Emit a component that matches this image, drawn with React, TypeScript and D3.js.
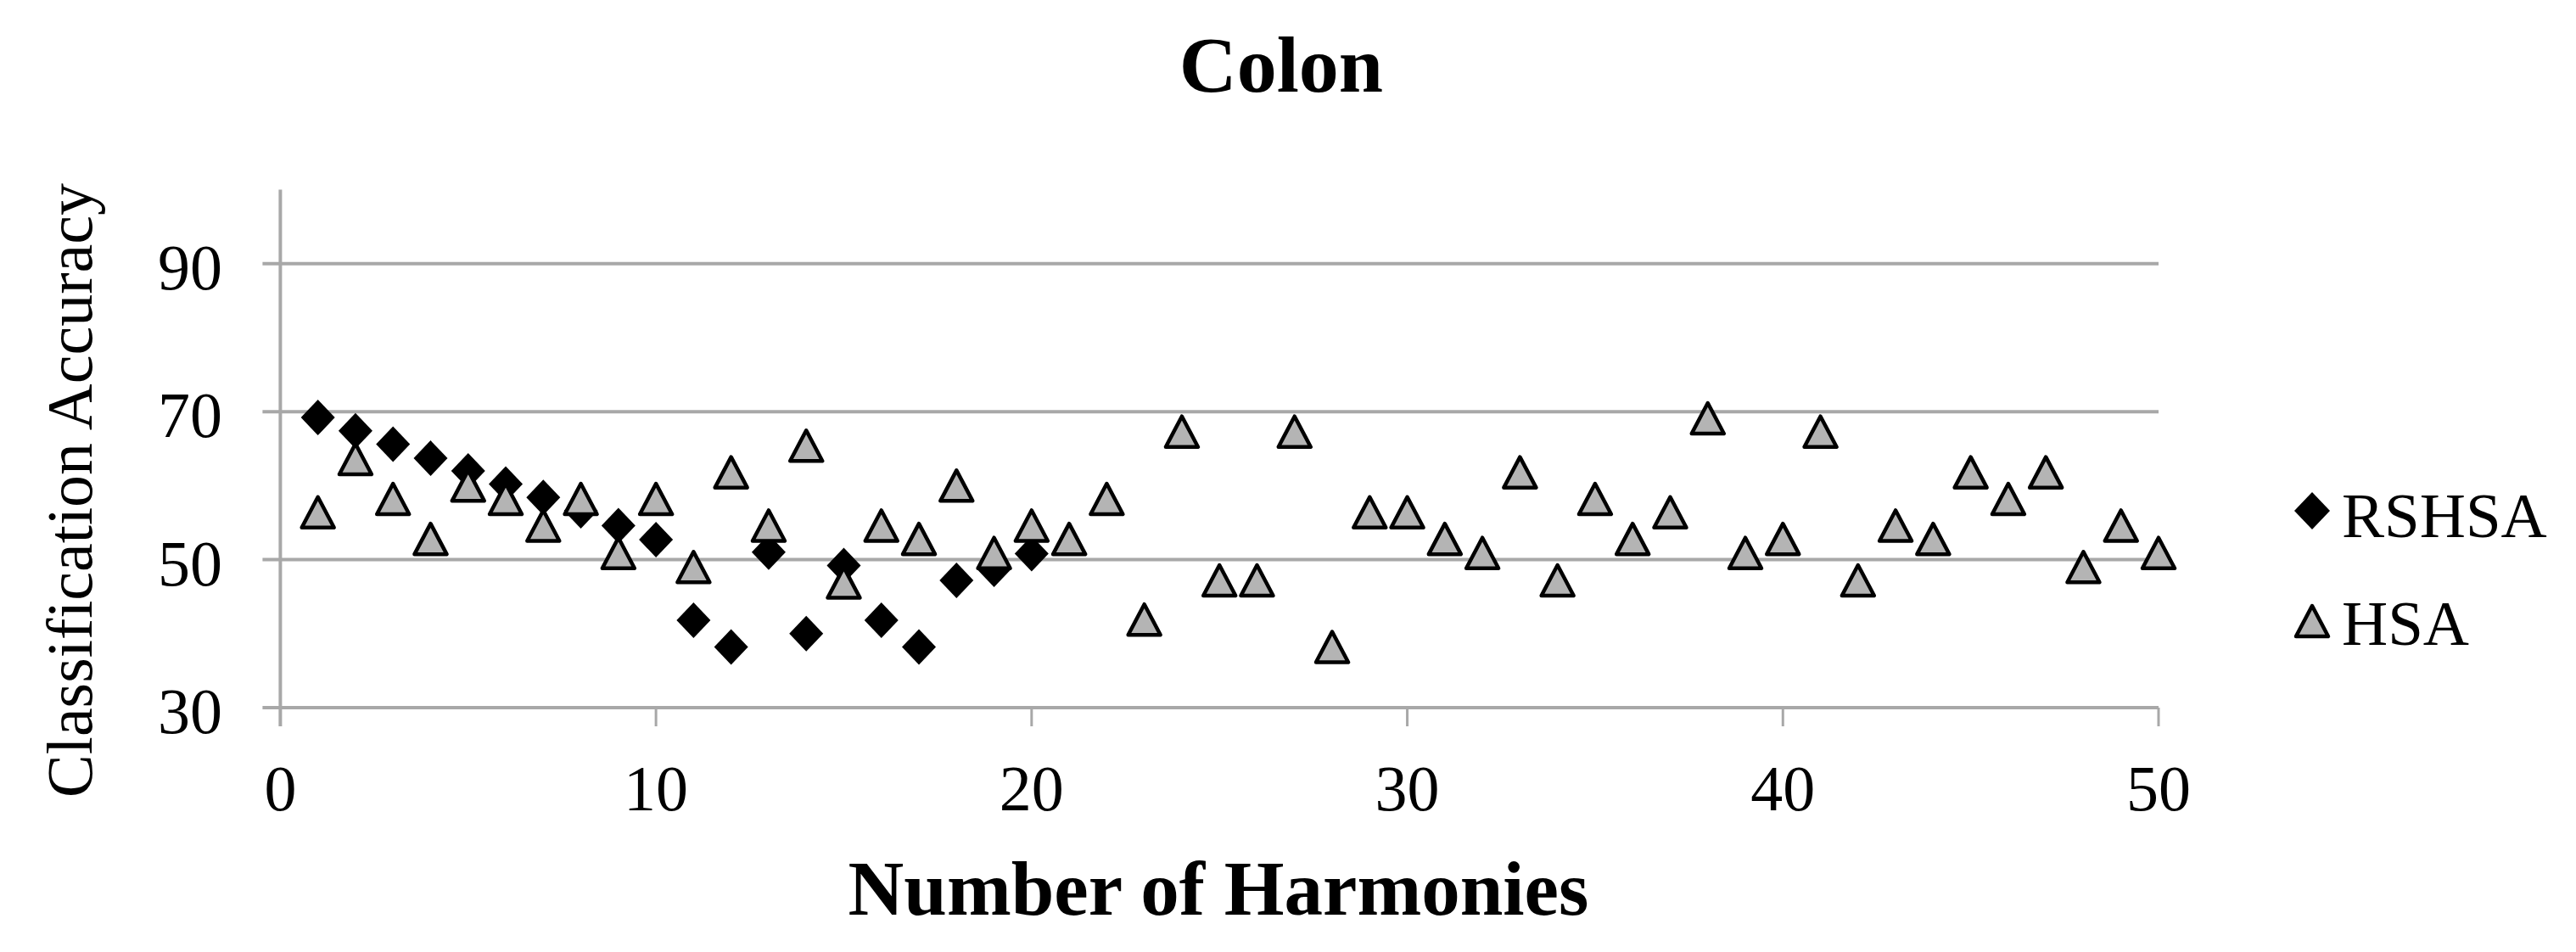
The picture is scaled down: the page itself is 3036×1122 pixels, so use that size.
import React from "react";
import * as d3 from "d3";

const harmonicsRSHSA = d3.range(1, 21);
const valuesRSHSA = [69.2, 67.4, 65.6, 63.7, 62.0, 60.2, 58.4, 56.6, 54.6, 52.7, 41.8, 38.2, 51.0, 40.0, 49.2, 41.8, 38.2, 47.2, 48.7, 50.8];
const harmonicsHSA = d3.range(1, 51);
const valuesHSA = [
  56.4, 63.6, 58.2, 52.8, 60.0, 58.2, 54.6, 58.2, 50.9, 58.2,
  49.0, 61.8, 54.6, 65.4, 46.9, 54.6, 52.8, 60.0, 50.9, 54.6,
  52.8, 58.2, 41.9, 67.3, 47.2, 47.2, 67.3, 38.2, 56.4, 56.4,
  52.8, 50.9, 61.8, 47.2, 58.2, 52.8, 56.4, 69.1, 50.9, 52.8,
  67.3, 47.2, 54.6, 52.8, 61.8, 58.2, 61.8, 49.0, 54.6, 50.9,
];
const xTicks = [0, 10, 20, 30, 40, 50];
const yTicks = [30, 50, 70, 90];
const seriesNames = ["RSHSA", "HSA"];

const W = 3036;
const H = 1122;
const FONT = "'Liberation Serif', 'Times New Roman', serif";
const GRID = "#a8a8a8";

const x = d3.scaleLinear().domain([0, 50]).range([330.4, 2544]);
const y = d3.scaleLinear().domain([30, 100]).range([834, 223.5]);

const diamondPath = "M0,-21L20,0L0,21L-20,0Z";
const trianglePath = "M0,-18L19,18L-19,18Z";

export default function App() {
  const rsh = harmonicsRSHSA.map((h, i) => ({ h, v: valuesRSHSA[i] }));
  const hsa = harmonicsHSA.map((h, i) => ({ h, v: valuesHSA[i] }));
  const x0 = x(0);
  const x50 = x(50);
  return (
    <svg
      width={W}
      height={H}
      style={{ position: "absolute", left: 0, top: 0, display: "block", background: "#fff" }}
      fontFamily={FONT}
    >
      <rect width={W} height={H} fill="#fff" />
      {/* title */}
      <text x={1510} y={108} textAnchor="middle" fontSize={94} fontWeight="bold" fill="#000">
        Colon
      </text>
      {/* gridlines + y ticks */}
      {yTicks.map((t) => (
        <g key={t}>
          <line x1={x0 - 21} x2={x50} y1={y(t)} y2={y(t)} stroke={GRID} strokeWidth={4} />
          <text x={262} y={y(t) + 30} textAnchor="end" fontSize={76} fill="#000">
            {t}
          </text>
        </g>
      ))}
      {/* y axis */}
      <line x1={x0} x2={x0} y1={y(100)} y2={y(30) + 22} stroke={GRID} strokeWidth={4} />
      {/* x ticks */}
      {xTicks.map((t) => (
        <g key={t}>
          <line x1={x(t)} x2={x(t)} y1={y(30)} y2={y(30) + 22} stroke={GRID} strokeWidth={3} />
          <text x={x(t)} y={955} textAnchor="middle" fontSize={76} fill="#000">
            {t}
          </text>
        </g>
      ))}
      {/* axis titles */}
      <text x={1436} y={1078} textAnchor="middle" fontSize={91} fontWeight="bold" fill="#000">
        Number of Harmonies
      </text>
      <text
        transform={`translate(108,578) rotate(-90)`}
        textAnchor="middle"
        fontSize={76}
        fill="#000"
      >
        Classification Accuracy
      </text>
      {/* series */}
      {rsh.map((d) => (
        <path key={"r" + d.h} d={diamondPath} transform={`translate(${x(d.h)},${y(d.v)})`} fill="#000" />
      ))}
      {hsa.map((d) => (
        <path
          key={"h" + d.h}
          d={trianglePath}
          transform={`translate(${x(d.h)},${y(d.v)})`}
          fill="#b4b4b4"
          stroke="#000"
          strokeWidth={4.5}
          strokeLinejoin="round"
        />
      ))}
      {/* legend */}
      <path d={diamondPath} transform="translate(2725,602) scale(1.05)" fill="#000" />
      <text x={2760} y={633} fontSize={75} fill="#000">
        {seriesNames[0]}
      </text>
      <path
        d={trianglePath}
        transform="translate(2725,732)"
        fill="#b4b4b4"
        stroke="#000"
        strokeWidth={4.5}
        strokeLinejoin="round"
      />
      <text x={2760} y={760} fontSize={75} fill="#000">
        {seriesNames[1]}
      </text>
    </svg>
  );
}
